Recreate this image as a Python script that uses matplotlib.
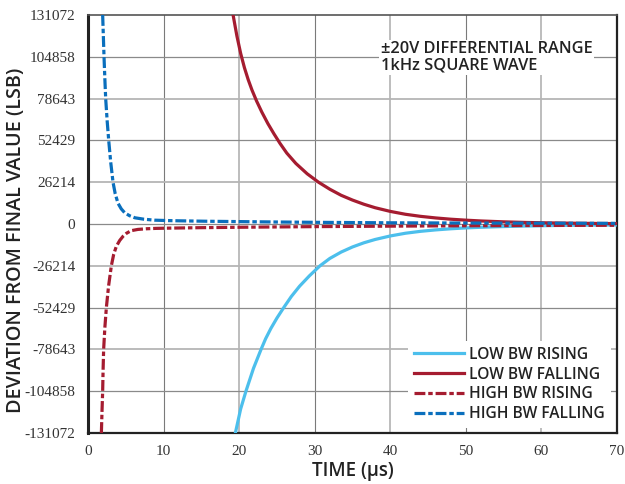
import matplotlib
matplotlib.use("Agg")
import matplotlib.pyplot as plt

# values (time in us, deviation in LSB)
low_rise_t = [19.5, 20.2, 20.9, 21.9, 22.9, 23.5, 24.2, 25.0, 25.9, 26.9, 28.0, 29.3, 30.7,
              32, 33.5, 35, 36.5, 38, 40, 42, 44, 46, 48, 50, 52, 55, 58, 61, 64, 67, 70]
low_rise_v = [-131072, -116000, -104858, -90500, -78643, -72000, -65500, -59000, -52429,
              -45500, -39000, -32500, -26214, -21600, -17600, -14400, -11800, -9700, -7500,
              -5800, -4600, -3700, -3000, -2450, -2050, -1600, -1250, -1000, -820, -700, -600]

low_fall_t = [19.2, 19.7, 20.2, 20.7, 21.2, 21.7, 22.3, 23.0, 23.8, 24.6, 25.4, 26.3, 27.5,
              29.0, 30.5, 32, 33.5, 35, 36.5, 38, 40, 42, 44, 46, 48, 50, 52, 55, 58, 61,
              64, 67, 70]
low_fall_v = [131072, 118000, 107000, 98000, 90500, 84000, 77200, 70200, 63000, 56600,
              50600, 44500, 38000, 31500, 26214, 21800, 18000, 15000, 12400, 10200, 7900,
              6100, 4800, 3800, 3000, 2400, 1900, 1350, 950, 700, 500, 350, 250]

high_rise_t = [1.77, 1.85, 1.94, 2.0, 2.07, 2.23, 2.43, 2.72, 3.09, 3.4, 3.75, 4.2, 4.64,
               5.1, 5.7, 6.6, 7.7, 9, 10.6, 15, 20, 25, 30, 40, 50, 60, 70]
high_rise_v = [-131072, -118000, -104858, -91000, -78643, -65000, -52429, -39000, -26214,
               -19000, -14000, -10300, -7700, -5800, -4200, -3400, -3000, -2750, -2600,
               -2300, -2050, -1850, -1650, -1350, -1100, -900, -800]

high_fall_t = [1.94, 2.03, 2.12, 2.23, 2.34, 2.53, 2.74, 3.0, 3.31, 3.6, 3.97, 4.4, 4.86,
               5.5, 6.2, 7.4, 8.8, 10.5, 12, 16, 20, 25, 30, 35, 40, 50, 60, 70]
high_fall_v = [131072, 118000, 104858, 91000, 78643, 65000, 52429, 39000, 26214, 19000,
               13000, 9500, 7000, 5200, 3900, 3000, 2400, 2150, 2000, 1700, 1500, 1250,
               1050, 900, 750, 600, 500, 400]

x_ticks = [0, 10, 20, 30, 40, 50, 60, 70]
y_ticks = [-131072, -104858, -78643, -52429, -26214, 0, 26214, 52429, 78643, 104858, 131072]

LIGHT_BLUE = "#4cbfec"
RED = "#a51c30"
BLUE = "#0a6fbd"
DASHDOT = (3.4, 0.9, 1.4, 0.9)
SANS = "Open Sans"

fig = plt.figure(figsize=(6.25, 4.84), dpi=100)
ax = fig.add_axes([0.1408, 0.1054, 0.8464, 0.8636])

# grid: alternating dark / light grey like the original
for i, t in enumerate(x_ticks[1:-1], start=1):
    if i % 2:
        ax.axvline(t, color="#7a7a7a", lw=0.8, zorder=0)
    else:
        ax.axvline(t, color="#bdbdbd", lw=1.4, zorder=0)
for i, v in enumerate(y_ticks[1:-1]):
    if v == 0 or i % 2 == 0:
        ax.axhline(v, color="#8a8a8a", lw=0.9, zorder=0)
    else:
        ax.axhline(v, color="#b5b5b5", lw=1.3, zorder=0)

style = dict(lw=2.3, solid_joinstyle="round", dash_joinstyle="round")
ax.plot(low_rise_t, low_rise_v, color=LIGHT_BLUE, label="LOW BW RISING", zorder=3, **style)
ax.plot(low_fall_t, low_fall_v, color=RED, label="LOW BW FALLING", zorder=3, **style)
ax.plot(high_rise_t, high_rise_v, color=RED, dashes=DASHDOT,
        label="HIGH BW RISING", zorder=4, **style)
ax.plot(high_fall_t, high_fall_v, color=BLUE, dashes=DASHDOT,
        label="HIGH BW FALLING", zorder=5, **style)

ax.set_xlim(0, 70)
ax.set_ylim(-131072, 131072)
ax.set_xticks(x_ticks)
ax.set_yticks(y_ticks)
ax.set_yticklabels([str(v) for v in y_ticks])
ax.tick_params(length=0, labelsize=11, pad=9)
for lab in ax.get_xticklabels() + ax.get_yticklabels():
    lab.set_fontfamily("Liberation Serif")
    lab.set_color("#333333")

ax.spines["left"].set_linewidth(2.2)
ax.spines["bottom"].set_linewidth(1.6)
ax.spines["right"].set_linewidth(1.6)
ax.spines["top"].set_linewidth(1.2)
ax.spines["top"].set_color("#555555")
for s in ["left", "bottom", "right"]:
    ax.spines[s].set_color("#222222")

ax.set_xlabel("TIME (\u00b5s)", fontsize=13.5, family=SANS, weight="semibold",
              color="#222222", labelpad=2)
ax.set_ylabel("DEVIATION FROM FINAL VALUE (LSB)", fontsize=14.2, family=SANS,
              weight="semibold", color="#222222")
ax.yaxis.set_label_coords(-0.118, 0.461)

ax.text(0.553, 0.937, "\u00b120V DIFFERENTIAL RANGE\n1kHz SQUARE WAVE", transform=ax.transAxes,
        fontsize=11.8, family=SANS, weight="semibold", color="#222222",
        va="top", ha="left", linespacing=1.0,
        bbox=dict(facecolor="white", edgecolor="none", pad=1), zorder=6)

leg = ax.legend(loc="lower right", bbox_to_anchor=(0.995, 0.004),
                prop={"family": SANS, "weight": "semibold", "size": 11.2},
                frameon=True, framealpha=1, facecolor="white", edgecolor="none",
                handlelength=3.2, handletextpad=0.35, labelspacing=0.24,
                borderpad=0.4, borderaxespad=0.2)
leg.set_zorder(7)
for t in leg.get_texts():
    t.set_color("#222222")

fig.savefig("out.png", dpi=100)
